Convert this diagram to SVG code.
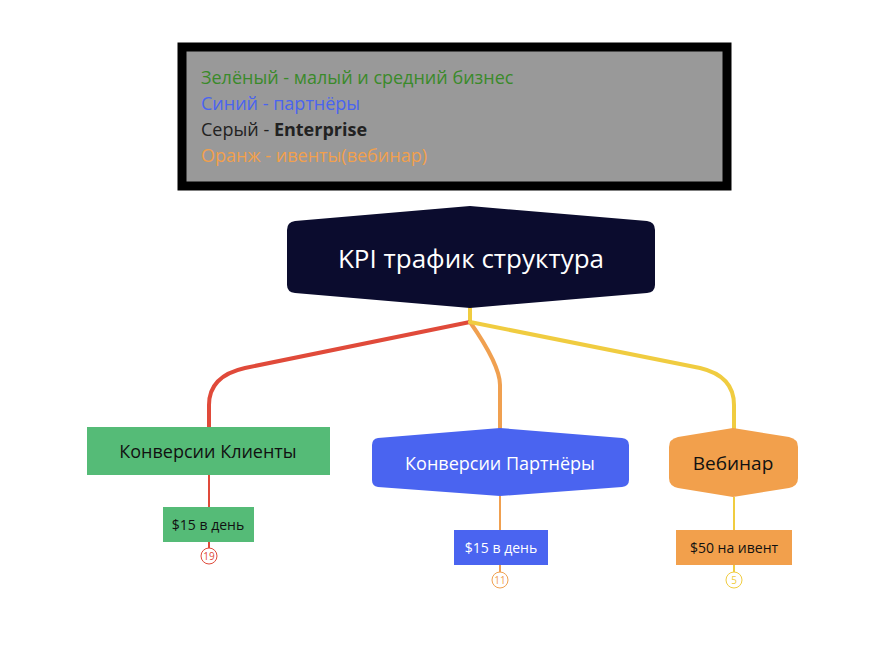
<svg xmlns="http://www.w3.org/2000/svg" width="885" height="650" viewBox="0 0 885 650">
<style>
text{font-family:"Open Sans","Liberation Sans",sans-serif}
.leg{font-size:18px}
.c{text-anchor:middle}
.conn{fill:none;stroke-width:4;stroke-linecap:round}
.num{font-size:10px;text-anchor:middle}
</style>
<rect width="885" height="650" fill="#fff"/>
<g id="legend">
<rect x="182" y="47" width="545" height="139" fill="#999" stroke="#000" stroke-width="9"/>
<text class="leg" x="201" y="84" fill="#3a8a2a">Зелёный - малый и средний бизнес</text>
<text class="leg" x="201" y="110" fill="#4a64f0">Синий - партнёры</text>
<text class="leg" x="201" y="136" fill="#222">Серый - <tspan font-weight="bold">Enterprise</tspan></text>
<text class="leg" x="201" y="162" fill="#f2a04c">Оранж - ивенты(вебинар)</text>
</g>
<g id="connectors">
<path class="conn" d="M470 308 V322" stroke="#f0cc40"/>
<path class="conn" d="M470 322 L245 368 Q209 376 209 405 V427" stroke="#e04a3a"/>
<path class="conn" d="M470 322 Q500 365 500 385 V438" stroke="#f0a050"/>
<path class="conn" d="M470 322 L700 368 Q734 376 734 405 V436" stroke="#f0cc40"/>
<path d="M209 475 V507 M209 542 V548" stroke="#e04a3a" stroke-width="2"/>
<path d="M500 496 V530 M500 565 V572" stroke="#f0a050" stroke-width="2"/>
<path d="M734 497 V530 M734 565 V572" stroke="#f0cc40" stroke-width="2"/>
</g>
<g id="root">
<path d="M295 221 L470 206 L647 221 Q655 222 655 230 V285 Q655 292 647 293 L470 308 L295 293 Q287 292 287 285 V230 Q287 222 295 221 Z" fill="#0b0c2e"/>
<text class="c" x="471" y="268" font-size="26" fill="#fff">KPI трафик структура</text>
</g>
<g id="clients">
<rect x="87" y="427" width="243" height="48" fill="#55bb77"/>
<text class="c" x="208" y="458" font-size="18" fill="#111">Конверсии Клиенты</text>
<rect x="163" y="507" width="91" height="35" fill="#55bb77"/>
<text class="c" x="208" y="530" font-size="14" fill="#111">$15 в день</text>
<circle cx="209" cy="556" r="8" fill="#fff" stroke="#e04a3a"/>
<text class="num" x="209" y="560" fill="#e04a3a">19</text>
</g>
<g id="partners">
<path d="M378 438 L500 428 L622 438 Q629 439 629 445 V480 Q629 486 622 487 L500 496 L378 487 Q372 486 372 480 V445 Q372 439 378 438 Z" fill="#4a64f0"/>
<text class="c" x="500" y="470" font-size="18" fill="#fff">Конверсии Партнёры</text>
<rect x="454" y="530" width="94" height="35" fill="#4a64f0"/>
<text class="c" x="501" y="553" font-size="14" fill="#fff">$15 в день</text>
<circle cx="500" cy="580" r="8" fill="#fff" stroke="#f0a050"/>
<text class="num" x="500" y="584" fill="#f0a050">11</text>
</g>
<g id="webinar">
<path d="M678 437 L733 428 L789 437 Q798 439 798 447 V478 Q798 486 789 488 L733 497 L678 488 Q669 486 669 478 V447 Q669 439 678 437 Z" fill="#f2a04c"/>
<text class="c" x="733" y="470" font-size="19" fill="#111">Вебинар</text>
<rect x="676" y="530" width="116" height="35" fill="#f2a04c"/>
<text class="c" x="734" y="553" font-size="14" fill="#111">$50 на ивент</text>
<circle cx="734" cy="580" r="8" fill="#fff" stroke="#f0cc40"/>
<text class="num" x="734" y="584" fill="#f0cc40">5</text>
</g>
</svg>
